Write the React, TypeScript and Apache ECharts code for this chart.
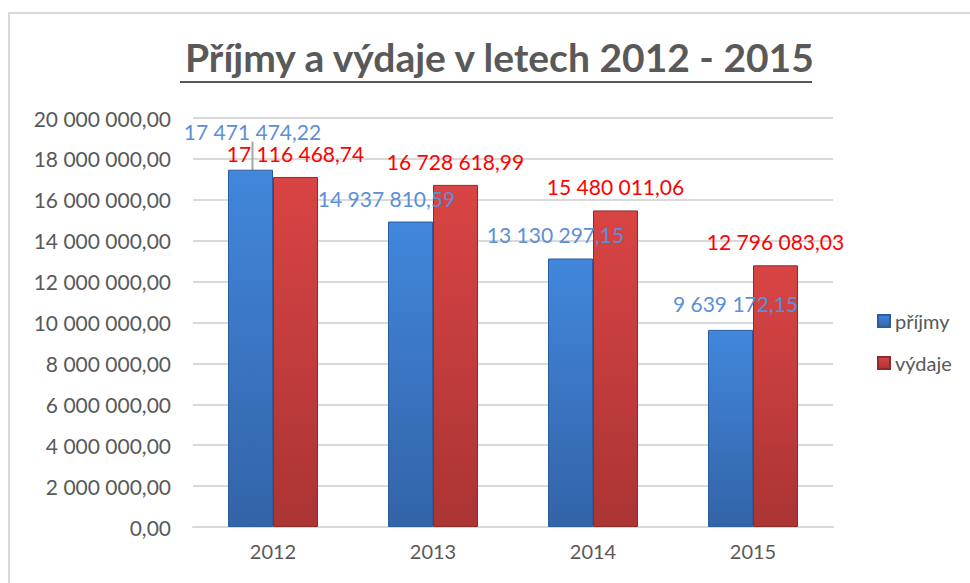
import React, { useEffect, useRef } from "react";
import * as echarts from "echarts";

const categories = ["2012", "2013", "2014", "2015"];
const prijmy = [17471474.22, 14937810.59, 13130297.15, 9639172.15];
const vydaje = [17116468.74, 16728618.99, 15480011.06, 12796083.03];
const seriesNames = ["příjmy", "výdaje"];
const titleText = "Příjmy a výdaje v letech 2012 - 2015";

const FONT = "Lato";

function fmt(v: number): string {
  const fixed = v.toFixed(2);
  const [intPart, dec] = fixed.split(".");
  const withSpaces = intPart.replace(/\B(?=(\d{3})+(?!\d))/g, " ");
  return withSpaces + "," + dec;
}

const blueDx = [2, -24, -15, 5];
const blueDy = [-15, 0, 0, -3];

export default function App() {
  const ref = useRef<HTMLDivElement>(null);
  useEffect(() => {
    if (!ref.current) return;
    const chart = echarts.init(ref.current, undefined, { renderer: "svg" });
    const blueGrad = new echarts.graphic.LinearGradient(0, 0, 0, 1, [
      { offset: 0, color: "#4187dc" },
      { offset: 1, color: "#3363a8" },
    ]);
    const redGrad = new echarts.graphic.LinearGradient(0, 0, 0, 1, [
      { offset: 0, color: "#d94444" },
      { offset: 1, color: "#ab3434" },
    ]);
    chart.setOption({
      animation: false,
      backgroundColor: "#ffffff",
      title: {
        text: titleText,
        left: 180,
        top: 32,
        textStyle: {
          fontFamily: FONT,
          fontWeight: "bold",
          fontSize: 39,
          color: "#595959",
        },
      },
      graphic: [
        {
          type: "rect",
          shape: { x: 9, y: 13, width: 1000, height: 620 },
          style: { fill: "none", stroke: "#d9d9d9", lineWidth: 2 },
          silent: true,
        },
        {
          type: "line",
          shape: { x1: 180, y1: 82, x2: 812, y2: 82 },
          style: { stroke: "#595959", lineWidth: 2 },
          silent: true,
        },
      ],
      legend: {
        orient: "vertical",
        left: 872,
        top: 306,
        itemWidth: 12,
        itemHeight: 12,
        itemGap: 22,
        icon: "rect",
        textStyle: { fontFamily: FONT, fontSize: 20, color: "#595959" },
        data: seriesNames,
      },
      grid: { left: 193, right: 137, top: 118, bottom: 56 },
      xAxis: {
        type: "category",
        data: categories,
        axisLine: { lineStyle: { color: "#d9d9d9", width: 2 } },
        axisTick: { show: false },
        axisLabel: {
          fontFamily: FONT,
          fontSize: 20,
          color: "#595959",
          margin: 14,
        },
      },
      yAxis: {
        type: "value",
        min: 0,
        max: 20000000,
        interval: 2000000,
        axisLine: { show: false },
        axisTick: { show: false },
        splitLine: { lineStyle: { color: "#d9d9d9", width: 2 } },
        axisLabel: {
          fontFamily: FONT,
          fontSize: 21,
          color: "#595959",
          margin: 22,
          formatter: (v: number) => fmt(v),
        },
      },
      series: [
        {
          name: seriesNames[0],
          type: "bar",
          barWidth: 45,
          barGap: "0%",
          itemStyle: { color: blueGrad, borderColor: "#2b5c9e", borderWidth: 1 },
          label: {
            show: true,
            position: "top",
            distance: 13,
            fontFamily: FONT,
            fontSize: 21,
            color: "#5b8fd8",
            formatter: (p: any) => fmt(p.value),
          },
          labelLayout: (p: any) => ({
            dx: blueDx[p.dataIndex],
            dy: blueDy[p.dataIndex],
          }),
          data: prijmy.map((v, i) => ({
            value: v,
            labelLine:
              i === 0
                ? { show: true, lineStyle: { color: "#a6a6a6", width: 2 } }
                : { show: false },
          })),
        },
        {
          name: seriesNames[1],
          type: "bar",
          barWidth: 45,
          itemStyle: { color: redGrad, borderColor: "#8e2a2a", borderWidth: 1 },
          label: {
            show: true,
            position: "top",
            distance: 13,
            fontFamily: FONT,
            fontSize: 21,
            color: "#ff0000",
            formatter: (p: any) => fmt(p.value),
          },
          data: vydaje,
        },
      ],
    });
    return () => chart.dispose();
  }, []);
  return (
    <div
      ref={ref}
      style={{ position: "fixed", left: 0, top: 0, width: 970, height: 583 }}
    />
  );
}
